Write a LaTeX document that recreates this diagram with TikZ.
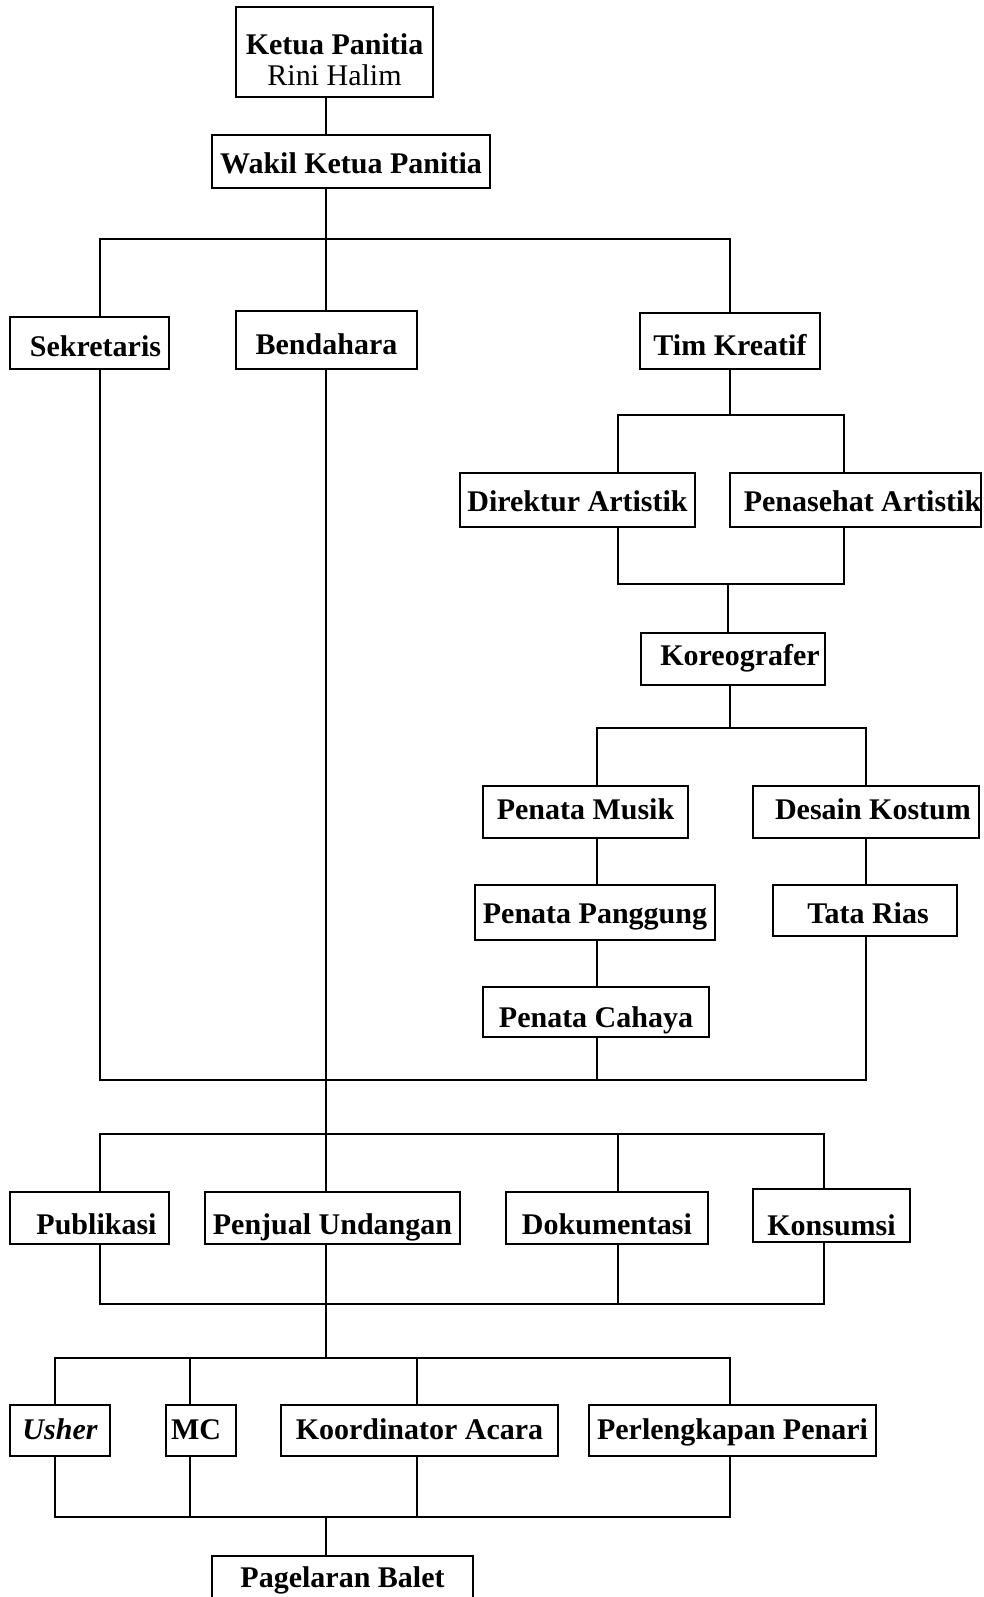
\documentclass[tikz,border=0pt]{standalone}
\usepackage{fontspec}
\setmainfont{Liberation Serif}

\begin{document}
\begin{tikzpicture}[x=1pt,y=-1pt,line width=1.8pt,
  box/.style 2 args={draw,inner sep=0pt,minimum width=#1,minimum height=#2,
    text height=28pt,text depth=0pt,
    font=\fontsize{30}{31}\selectfont\bfseries,align=center}]
\useasboundingbox (0,0) rectangle (983,1597);
% columns and bus rows
\coordinate (xush) at (55,0);   \coordinate (xsek) at (100,0);
\coordinate (xmc) at (190,0);   \coordinate (xmain) at (326,0);
\coordinate (xkoord) at (417,0); \coordinate (xmus) at (597,0);
\coordinate (xdir) at (618,0);  \coordinate (xkor) at (728,0);
\coordinate (xtim) at (730,0);  \coordinate (xkons) at (824,0);
\coordinate (xpen) at (844,0);  \coordinate (xkos) at (866,0);
\foreach \n/\y in {1/239,2/415,3/584,4/728,5/1080,6/1134,7/1304,8/1358,9/1517}
  \coordinate (bus\n) at (0,\y);
% boxes
\node[box={197}{90},text height=,text depth=] (ketua) at (334.5,52)
  {\rule{0pt}{36pt}Ketua Panitia\\\mdseries Rini Halim};
\node[box={278}{53},text height=24pt] (wakil) at (351,161.5) {Wakil Ketua Panitia};
\node[box={159}{52},text height=26pt] (sek) at (89.5,343) {\hspace*{12pt}Sekretaris};
\node[box={181}{58}] (bend) at (326.5,340) {Bendahara};
\node[box={180}{56}] (tim) at (730,341) {Tim Kreatif};
\node[box={235}{54},text height=22pt] (dir) at (577.5,500) {Direktur Artistik};
\node[box={251}{54},text height=22pt] (pen) at (855.5,500) {\hspace*{14pt}Penasehat Artistik};
\node[box={184}{52},text height=12pt] (kor) at (733,659) {\hspace*{14pt}Koreografer};
\node[box={205}{52},text height=14pt] (musik) at (585.5,812) {Penata Musik};
\node[box={226}{52},text height=14pt] (kostum) at (866,812) {\hspace*{14pt}Desain Kostum};
\node[box={240}{55},text height=22pt] (panggung) at (595,912.5) {Penata Panggung};
\node[box={184}{51},text height=26pt] (rias) at (865,910.5) {\hspace*{6pt}Tata Rias};
\node[box={226}{50},text height=30pt] (cahaya) at (596,1012) {Penata Cahaya};
\node[box={159}{52},text height=32pt] (pub) at (89.5,1218) {\hspace*{14pt}Publikasi};
\node[box={255}{52},text height=32pt] (jual) at (332.5,1218) {Penjual Undangan};
\node[box={202}{52},text height=32pt] (dok) at (607,1218) {Dokumentasi};
\node[box={157}{53},text height=40pt] (kons) at (831.5,1215.5) {Konsumsi};
\node[box={100}{51},text height=18pt] (usher) at (60,1430.5) {\itshape Usher};
\node[box={70}{51},text height=18pt] (mc) at (201,1430.5) {\hspace*{-10pt}MC};
\node[box={277}{51},text height=18pt] (koord) at (419.5,1430.5) {Koordinator Acara};
\node[box={287}{51},text height=18pt] (perl) at (732.5,1430.5) {Perlengkapan Penari};
\node[box={261}{50},text height=12pt] (balet) at (342.5,1581) {Pagelaran Balet};
% top
\draw (xmain |- ketua.south) -- (xmain |- wakil.north);
\draw (xmain |- wakil.south) -- (xmain |- bend.north);
\draw (xsek |- sek.north) |- (xtim |- bus1) -- (xtim |- tim.north);
% tim kreatif
\draw (xtim |- tim.south) -- (xtim |- bus2);
\draw (xdir |- dir.north) |- (xpen |- bus2) -- (xpen |- pen.north);
\draw (xdir |- dir.south) |- (xpen |- bus3) -- (xpen |- pen.south);
\draw (xkor |- bus3) -- (xkor |- kor.north);
\draw (xtim |- kor.south) -- (xtim |- bus4);
\draw (xmus |- musik.north) |- (xkos |- bus4) -- (xkos |- kostum.north);
\draw (xmus |- musik.south) -- (xmus |- panggung.north);
\draw (xmus |- panggung.south) -- (xmus |- cahaya.north);
\draw (xkos |- kostum.south) -- (xkos |- rias.north);
% join to the bottom
\draw (xsek |- sek.south) |- (xkos |- bus5) -- (xkos |- rias.south);
\draw (xmus |- cahaya.south) -- (xmus |- bus5);
\draw (xmain |- bend.south) -- (xmain |- jual.north);
\draw (xsek |- pub.north) |- (xkons |- bus6) -- (xkons |- kons.north);
\draw (xdir |- bus6) -- (xdir |- dok.north);
\draw (xsek |- pub.south) |- (xkons |- bus7) -- (xkons |- kons.south);
\draw (xdir |- dok.south) -- (xdir |- bus7);
\draw (xmain |- jual.south) -- (xmain |- bus8);
\draw (xush |- usher.north) |- (xtim |- bus8) -- (xtim |- perl.north);
\draw (xush |- usher.south) |- (xtim |- bus9) -- (xtim |- perl.south);
\foreach \c/\n in {xmc/mc,xkoord/koord} {
  \draw (\c |- bus8) -- (\c |- \n.north);
  \draw (\c |- \n.south) -- (\c |- bus9);
}
\draw (xmain |- bus9) -- (xmain |- balet.north);
\end{tikzpicture}
\end{document}
